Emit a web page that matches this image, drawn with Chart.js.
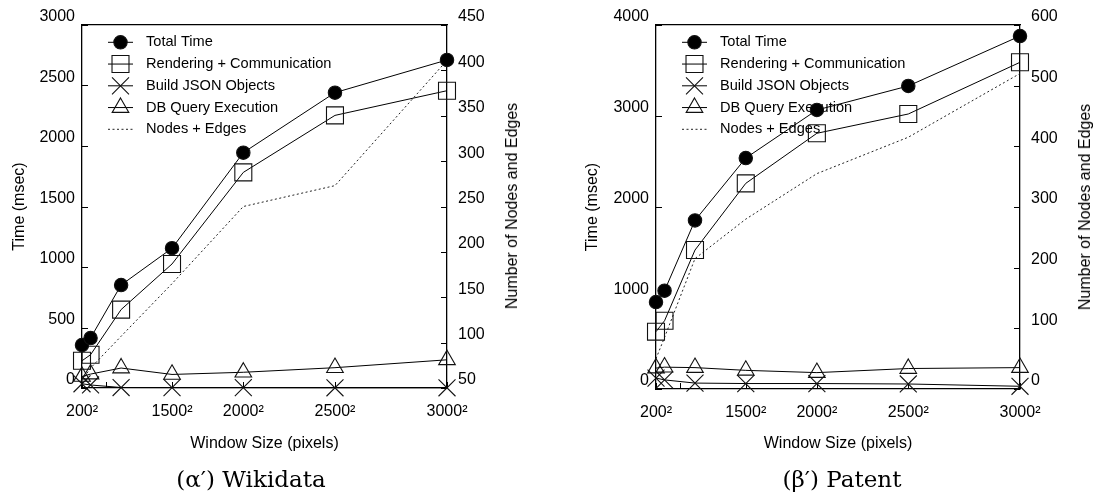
<!DOCTYPE html>
<html><head><meta charset="utf-8">
<script src="https://cdn.jsdelivr.net/npm/chart.js@4/dist/chart.umd.min.js"></script>
<style>
html,body{margin:0;padding:0;background:#fff;}
#wrap{position:relative;width:1094px;height:499px;overflow:hidden;background:#fff;}
.pane{position:absolute;top:0;width:547px;height:499px;}
.rt{position:absolute;font-family:"Liberation Sans",Arial,sans-serif;font-size:16px;color:#000;white-space:nowrap;transform:translate(-50%,-50%) rotate(-90deg);}
.cap{position:absolute;font-family:"DejaVu Serif",serif;font-size:23px;color:#000;white-space:nowrap;transform:translate(-50%,-50%);}
</style></head>
<body>
<div id="wrap">
 <div class="pane" style="left:0"><canvas id="c1" width="547" height="499"></canvas></div>
 <div class="pane" style="left:547px"><canvas id="c2" width="547" height="499"></canvas></div>
 <div class="rt" style="left:512px;top:206px">Number of Nodes and Edges</div>
 <div class="rt" style="left:1085px;top:207px">Number of Nodes and Edges</div>
 <div class="cap" style="left:251px;top:479px">(α′) Wikidata</div>
 <div class="cap" style="left:842px;top:479px">(β′) Patent</div>
</div>
<script>
// ---- data ----
const windowSides = [200, 500, 1000, 1500, 2000, 2500, 3000];
const xTickSides = [200, 1500, 2000, 2500, 3000];
const xMinorTickSides = [800];
const seriesNames = ['Total Time', 'Rendering + Communication', 'Build JSON Objects', 'DB Query Execution', 'Nodes + Edges'];

// Wikidata
const wikiTotal     = [355, 413, 851, 1155, 1945, 2441, 2711];
const wikiRender    = [225, 275, 648, 1025, 1782, 2253, 2457];
const wikiJson      = [35, 25, 4, 3, 3, 2, 2];
const wikiDb        = [95, 115, 165, 112, 130, 168, 233];
const wikiNodes     = [58, 72, 107, 165, 250, 273, 411];
const wikiTimeTicks = [0, 3000, 500];
const wikiNodeTicks = [50, 450, 50];

// Patent
const patTotal      = [955, 1080, 1853, 2538, 3066, 3330, 3879];
const patRender     = [630, 750, 1527, 2260, 2810, 3022, 3590];
const patJson       = [120, 100, 65, 60, 60, 55, 30];
const patDb         = [230, 240, 235, 205, 180, 225, 235];
const patNodes      = [50, 85, 215, 280, 355, 415, 520];
const patTimeTicks  = [0, 4000, 1000];
const patNodeTicks  = [0, 600, 100];

// ---- helpers ----
Chart.defaults.font.family = '"Liberation Sans", Arial, Helvetica, sans-serif';
Chart.defaults.color = '#000';

function pts(vals) { return windowSides.map((s, i) => ({ x: s * s, y: vals[i] })); }

function drawMarker(ctx, style, r, x, y) {
  ctx.beginPath();
  if (style === 'circle') {
    ctx.arc(x, y, r, 0, Math.PI * 2); ctx.fill(); ctx.stroke();
  } else if (style === 'rect') {
    const s = r * Math.SQRT1_2; ctx.rect(x - s, y - s, 2 * s, 2 * s); ctx.stroke();
  } else if (style === 'crossRot') {
    const s = r * Math.SQRT1_2;
    ctx.moveTo(x - s, y - s); ctx.lineTo(x + s, y + s);
    ctx.moveTo(x - s, y + s); ctx.lineTo(x + s, y - s); ctx.stroke();
  } else if (style === 'triangle') {
    for (let k = 0; k < 3; k++) {
      const a = k * 2 * Math.PI / 3;
      const px = x + Math.sin(a) * r, py = y - Math.cos(a) * r;
      if (k === 0) ctx.moveTo(px, py); else ctx.lineTo(px, py);
    }
    ctx.closePath(); ctx.stroke();
  }
}

const keyPlugin = {
  id: 'gkey',
  beforeDatasetsDraw(chart) {
    const ctx = chart.ctx, a = chart.chartArea;
    ctx.save();
    chart.data.datasets.forEach((ds, i) => {
      const y = a.top + 17.3 + i * 21.75;
      const mx = a.left + 38.5;
      ctx.strokeStyle = ds.borderColor; ctx.lineWidth = ds.borderWidth;
      ctx.setLineDash(ds.borderDash || []);
      ctx.beginPath(); ctx.moveTo(mx - 12.5, y); ctx.lineTo(mx + 12.5, y); ctx.stroke();
      ctx.setLineDash([]);
      if (ds.pointRadius > 0) {
        ctx.fillStyle = ds.pointBackgroundColor; ctx.strokeStyle = ds.pointBorderColor;
        ctx.lineWidth = ds.pointBorderWidth;
        drawMarker(ctx, ds.pointStyle, ds.pointRadius, mx, y);
      }
      ctx.fillStyle = '#000';
      ctx.font = '14.6px "Liberation Sans", Arial, sans-serif';
      ctx.textBaseline = 'middle'; ctx.textAlign = 'left';
      ctx.fillText(ds.label, a.left + 64, y);
    });
    ctx.restore();
  }
};

const tickPlugin = {
  id: 'inticks',
  beforeDatasetsDraw(chart) {
    const ctx = chart.ctx, a = chart.chartArea, L = 6;
    const sy = chart.scales.y, sy1 = chart.scales.y1, sx = chart.scales.x;
    ctx.save(); ctx.strokeStyle = '#000'; ctx.lineWidth = 1; ctx.beginPath();
    sy.ticks.forEach(t => { const p = Math.round(sy.getPixelForValue(t.value)) + 0.5; ctx.moveTo(a.left, p); ctx.lineTo(a.left + L, p); });
    sy1.ticks.forEach(t => { const p = Math.round(sy1.getPixelForValue(t.value)) + 0.5; ctx.moveTo(a.right, p); ctx.lineTo(a.right - L, p); });
    xTickSides.concat(xMinorTickSides).forEach(s => { const p = Math.round(sx.getPixelForValue(s * s)) + 0.5; ctx.moveTo(p, a.bottom); ctx.lineTo(p, a.bottom - L); });
    ctx.stroke(); ctx.restore();
  }
};

function makeChart(id, d, L) {
  const common = { borderColor: '#000', borderWidth: 1, tension: 0, clip: false,
                   pointBorderColor: '#111', pointBorderWidth: 1.1 };
  const datasets = [
    Object.assign({}, common, { label: seriesNames[0], data: pts(d.total), yAxisID: 'y',
      pointStyle: 'circle', pointRadius: 6.7, pointBackgroundColor: '#000' }),
    Object.assign({}, common, { label: seriesNames[1], data: pts(d.render), yAxisID: 'y',
      pointStyle: 'rect', pointRadius: 12, pointBackgroundColor: 'rgba(0,0,0,0)' }),
    Object.assign({}, common, { label: seriesNames[2], data: pts(d.json), yAxisID: 'y',
      pointStyle: 'crossRot', pointRadius: 12, pointBackgroundColor: 'rgba(0,0,0,0)' }),
    Object.assign({}, common, { label: seriesNames[3], data: pts(d.db), yAxisID: 'y',
      pointStyle: 'triangle', pointRadius: 9.6, pointBackgroundColor: 'rgba(0,0,0,0)' }),
    Object.assign({}, common, { label: seriesNames[4], data: pts(d.nodes), yAxisID: 'y1',
      pointRadius: 0, borderDash: [2, 2.5], borderColor: '#222' })
  ];
  datasets.forEach(ds => { ds.pointHoverRadius = ds.pointRadius; });
  const border = { display: true, color: '#000', width: 1.3 };
  const noGrid = { display: false, drawTicks: false };
  const plain = v => String(v);
  return new Chart(document.getElementById(id), {
    type: 'line',
    data: { datasets },
    plugins: [tickPlugin, keyPlugin],
    options: {
      responsive: false, animation: false,
      layout: { padding: { top: 25, left: 0, right: 0, bottom: 0 } },
      plugins: { legend: { display: false }, tooltip: { enabled: false } },
      scales: {
        x: {
          type: 'linear', position: 'bottom',
          min: windowSides[0] * windowSides[0], max: windowSides[6] * windowSides[6],
          afterBuildTicks: s => { s.ticks = xTickSides.map(v => ({ value: v * v })); },
          afterFit: s => { s.height = L.bottom; },
          ticks: { autoSkip: false, maxRotation: 0, padding: 14, font: { size: 16 },
                   callback: v => { const s = Math.round(Math.sqrt(v)); return s + '\u00B2'; } },
          grid: noGrid, border,
          title: { display: true, text: 'Window Size (pixels)', font: { size: 16 }, padding: { top: 0, bottom: 46 } }
        },
        x2: {
          type: 'linear', position: 'top', display: true,
          afterFit: s => { s.height = 0; },
          ticks: { display: false }, grid: noGrid, border
        },
        y: {
          type: 'linear', position: 'left',
          min: d.timeTicks[0], max: d.timeTicks[1],
          afterFit: s => { s.width = L.left; },
          ticks: { stepSize: d.timeTicks[2], padding: 7, labelOffset: -8, font: { size: 16 }, callback: plain },
          grid: noGrid, border,
          title: { display: true, text: 'Time (msec)', font: { size: 16 }, padding: { top: L.titlePad, bottom: 0 } }
        },
        y1: {
          type: 'linear', position: 'right',
          min: d.nodeTicks[0], max: d.nodeTicks[1],
          afterFit: s => { s.width = L.right; },
          ticks: { stepSize: d.nodeTicks[2], padding: 11, labelOffset: -8, font: { size: 16 }, callback: plain },
          grid: noGrid, border
        }
      }
    }
  });
}

makeChart('c1', { total: wikiTotal, render: wikiRender, json: wikiJson, db: wikiDb, nodes: wikiNodes,
                  timeTicks: wikiTimeTicks, nodeTicks: wikiNodeTicks },
          { left: 82, right: 100, bottom: 111, titlePad: 10 });
makeChart('c2', { total: patTotal, render: patRender, json: patJson, db: patDb, nodes: patNodes,
                  timeTicks: patTimeTicks, nodeTicks: patNodeTicks },
          { left: 109, right: 74, bottom: 110, titlePad: 36.4 });
</script>
</body></html>
